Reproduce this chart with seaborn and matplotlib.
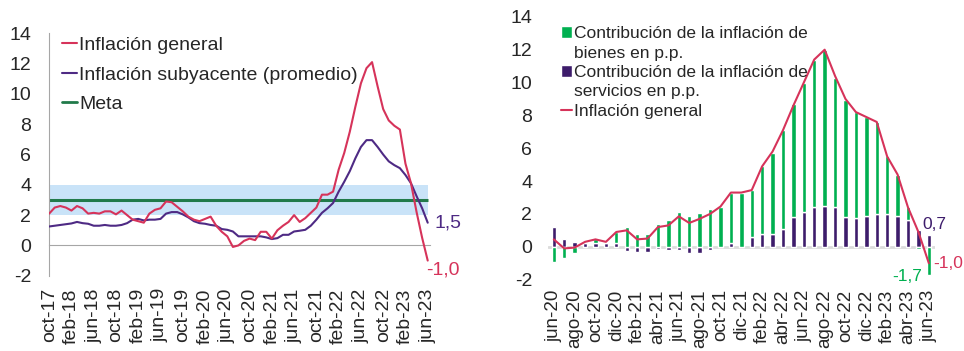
import numpy as np
import pandas as pd
import matplotlib
matplotlib.use("Agg")
import matplotlib.pyplot as plt
import seaborn as sns
from matplotlib.patches import Patch
from matplotlib.lines import Line2D

# Left panel: monthly, oct-17 .. jun-23 (% a/a)
general_left = [2.1, 2.5, 2.6, 2.5, 2.3, 2.6, 2.45, 2.1, 2.15, 2.1,
                2.25, 2.25, 2.05, 2.3, 2.0, 1.7, 1.6, 1.5, 2.1, 2.35,
                2.45, 2.9, 2.85, 2.55, 2.25, 1.9, 1.7, 1.6, 1.75, 1.9,
                1.3, 0.9, 0.6, -0.1, 0.0, 0.3, 0.45, 0.35, 0.9, 0.9,
                0.45, 1.0, 1.3, 1.55, 2.0, 1.55, 1.8, 2.15, 2.5, 3.35,
                3.35, 3.55, 5.0, 6.1, 7.5, 9.15, 10.7, 11.7, 12.1, 10.5,
                9.0, 8.25, 7.9, 7.65, 5.4, 4.1, 2.2, 0.5, -1.0]
core_left = [1.25, 1.3, 1.35, 1.4, 1.45, 1.55, 1.47, 1.43, 1.3, 1.3,
             1.35, 1.3, 1.3, 1.35, 1.47, 1.7, 1.75, 1.65, 1.7, 1.7,
             1.75, 2.1, 2.2, 2.2, 2.05, 1.85, 1.6, 1.47, 1.43, 1.35,
             1.3, 1.08, 1.03, 0.92, 0.6, 0.6, 0.6, 0.6, 0.6, 0.53,
             0.42, 0.48, 0.7, 0.7, 0.92, 0.97, 1.03, 1.3, 1.7, 2.15,
             2.45, 2.8, 3.55, 4.2, 4.9, 5.75, 6.5, 6.95, 6.95, 6.5,
             6.0, 5.55, 5.3, 5.1, 4.65, 4.1, 3.25, 2.45, 1.5]
meta = 3.0
band_low, band_high = 2.0, 4.0
left_ticklabels = ["oct-17", "feb-18", "jun-18", "oct-18", "feb-19", "jun-19",
                   "oct-19", "feb-20", "jun-20", "oct-20", "feb-21", "jun-21",
                   "oct-21", "feb-22", "jun-22", "oct-22", "feb-23", "jun-23"]

# Right panel: monthly, jun-20 .. jun-23 (contributions in p.p.)
goods = [-0.9, -0.7, -0.4, 0.05, 0.25, 0.1, 0.7, 1.2, 0.75, 0.8,
         1.4, 1.6, 2.1, 1.85, 2.05, 2.3, 2.45, 3.1, 3.25, 2.85,
         4.1, 4.9, 6.0, 6.9, 7.9, 8.95, 9.5, 7.9, 7.15, 6.45,
         6.0, 5.6, 3.5, 2.5, 0.8, -0.15, -1.7]
services = [1.2, 0.5, 0.3, 0.25, 0.2, 0.2, 0.2, -0.25, -0.3, -0.3,
            -0.15, -0.2, -0.2, -0.4, -0.35, -0.2, 0.0, 0.2, 0.0, 0.6,
            0.8, 0.8, 1.1, 1.8, 2.1, 2.45, 2.5, 2.4, 1.8, 1.75,
            1.9, 2.0, 2.0, 1.9, 1.6, 1.0, 0.7]
general_right = [0.45, -0.1, -0.05, 0.3, 0.45, 0.3, 0.9, 1.0, 0.45, 0.5,
                 1.2, 1.3, 1.85, 1.45, 1.7, 2.0, 2.45, 3.3, 3.3, 3.45,
                 4.9, 5.8, 7.1, 8.6, 10.0, 11.4, 12.0, 10.4, 9.0, 8.2,
                 7.9, 7.6, 5.5, 4.4, 2.4, 0.9, -1.0]
right_ticklabels = ["jun-20", "ago-20", "oct-20", "dic-20", "feb-21", "abr-21",
                    "jun-21", "ago-21", "oct-21", "dic-21", "feb-22", "abr-22",
                    "jun-22", "ago-22", "oct-22", "dic-22", "feb-23", "abr-23",
                    "jun-23"]

RED = "#D6335A"
PURPLE_LINE = "#4E2A84"
META_GREEN = "#217A4A"
BAND = "#C9E3F8"
GREEN_BAR = "#00B050"
PURPLE_BAR = "#3D1C6B"
GRAY = "#A6A6A6"

sns.set_style("white")
plt.rcParams['font.family'] = ['Liberation Sans', 'DejaVu Sans']
plt.rcParams['axes.unicode_minus'] = False

fig = plt.figure(figsize=(9.64, 3.51), dpi=100)
ax1 = fig.add_axes([0.051, 0.2145, 0.395, 0.6905])
ax2 = fig.add_axes([0.568, 0.2034, 0.402, 0.7486])

# ---- left panel
df_left = pd.DataFrame({"mes": np.arange(len(general_left)),
                        "general": general_left, "core": core_left})
x0, x1 = df_left["mes"].iloc[0], df_left["mes"].iloc[-1]
ax1.fill_between(df_left["mes"], band_low, band_high, color=BAND, lw=0, zorder=0)
ax1.hlines(meta, x0, x1, color=META_GREEN, lw=2.2, zorder=2)
sns.lineplot(data=df_left, x="mes", y="core", color=PURPLE_LINE, lw=1.5, ax=ax1, zorder=3)
sns.lineplot(data=df_left, x="mes", y="general", color=RED, lw=1.5, ax=ax1, zorder=4)

ax1.set_xlim(0, 68.4)
ax1.set_ylim(-2, 14)
ax1.set_yticks(range(-2, 15, 2))
ax1.set_xticks(np.arange(len(left_ticklabels)) * 4)
ax1.set_xlabel("")
ax1.set_ylabel("")
for s in ["top", "right"]:
    ax1.spines[s].set_visible(False)
ax1.spines["left"].set_color(GRAY)
ax1.spines["bottom"].set_color(GRAY)
ax1.spines["bottom"].set_position(("data", 0))
ax1.tick_params(axis="y", direction="out", length=4, color=GRAY, pad=9, labelsize=14)
ax1.tick_params(axis="x", direction="out", length=4, color=GRAY, labelbottom=False)
sec = ax1.secondary_xaxis("bottom")
sec.set_xticks(np.arange(len(left_ticklabels)) * 4)
sec.set_xticklabels(left_ticklabels, rotation=90, fontsize=14)
sec.tick_params(length=0, pad=9)
sec.spines["bottom"].set_visible(False)

ax1.annotate("1,5", (x1, core_left[-1]), xytext=(5, 0), textcoords="offset points",
             color=PURPLE_LINE, fontsize=14, ha="left", va="center")
ax1.annotate("-1,0", (x1, general_left[-1]), xytext=(-1, -1), textcoords="offset points",
             color=RED, fontsize=14, ha="left", va="top")

leg_handles = [Line2D([], [], color=RED, lw=1.5),
               Line2D([], [], color=PURPLE_LINE, lw=1.5),
               Line2D([], [], color=META_GREEN, lw=2)]
ax1.legend(leg_handles, ["Inflación general", "Inflación subyacente (promedio)", "Meta"],
           loc="upper left", bbox_to_anchor=(0.035, 0.988), frameon=False, fontsize=14,
           handlelength=0.75, handletextpad=0.1, labelspacing=0.62, borderpad=0,
           borderaxespad=0)

# ---- right panel
idx = np.arange(len(goods))
serv = np.array(services)
gds = np.array(goods)
goods_bottom = np.where(np.sign(gds) == np.sign(serv), serv, 0)
ax2.axhline(0, color="#DCDCDC", lw=2, zorder=0)
ax2.bar(idx, serv, width=0.42, color=PURPLE_BAR, zorder=2)
ax2.bar(idx, gds, bottom=goods_bottom, width=0.42, color=GREEN_BAR, zorder=2)
df_right = pd.DataFrame({"mes": idx, "general": general_right})
sns.lineplot(data=df_right, x="mes", y="general", color=RED, lw=1.5, ax=ax2, zorder=4)

ax2.set_xlim(-0.6, 36.6)
ax2.set_ylim(-2, 14)
ax2.set_yticks(range(-2, 15, 2))
ax2.set_xticks(idx[::2])
ax2.set_xticklabels(right_ticklabels, rotation=90, fontsize=13.5)
ax2.set_xlabel("")
ax2.set_ylabel("")
for s in ["top", "right", "left", "bottom"]:
    ax2.spines[s].set_visible(False)
ax2.tick_params(axis="y", length=0, pad=11, labelsize=14)
ax2.tick_params(axis="x", length=0, pad=7)

ax2.annotate("0,7", (idx[-1], services[-1]), xytext=(4, 2), textcoords="offset points",
             color=PURPLE_BAR, fontsize=12.5, ha="center", va="bottom")
ax2.annotate("-1,7", (idx[-1], goods[-1]), xytext=(-5, -1), textcoords="offset points",
             color=GREEN_BAR, fontsize=12.5, ha="right", va="center")
ax2.annotate("-1,0", (idx[-1], general_right[-1]), xytext=(3, 0), textcoords="offset points",
             color=RED, fontsize=12.5, ha="left", va="center")

blank = Patch(facecolor="none", edgecolor="none")
r_handles = [Patch(facecolor=GREEN_BAR), blank, Patch(facecolor=PURPLE_BAR), blank,
             Line2D([], [], color=RED, lw=1.5)]
r_labels = ["Contribución de la inflación de", "bienes en p.p.",
            "Contribución de la inflación de", "servicios en p.p.", "Inflación general"]
ax2.legend(r_handles, r_labels, loc="upper left", bbox_to_anchor=(0.035, 0.964),
           frameon=False, fontsize=12.5, handlelength=0.65, handleheight=0.65,
           handletextpad=0.1, labelspacing=0.25, borderpad=0, borderaxespad=0)

fig.savefig("out.png", dpi=100)
